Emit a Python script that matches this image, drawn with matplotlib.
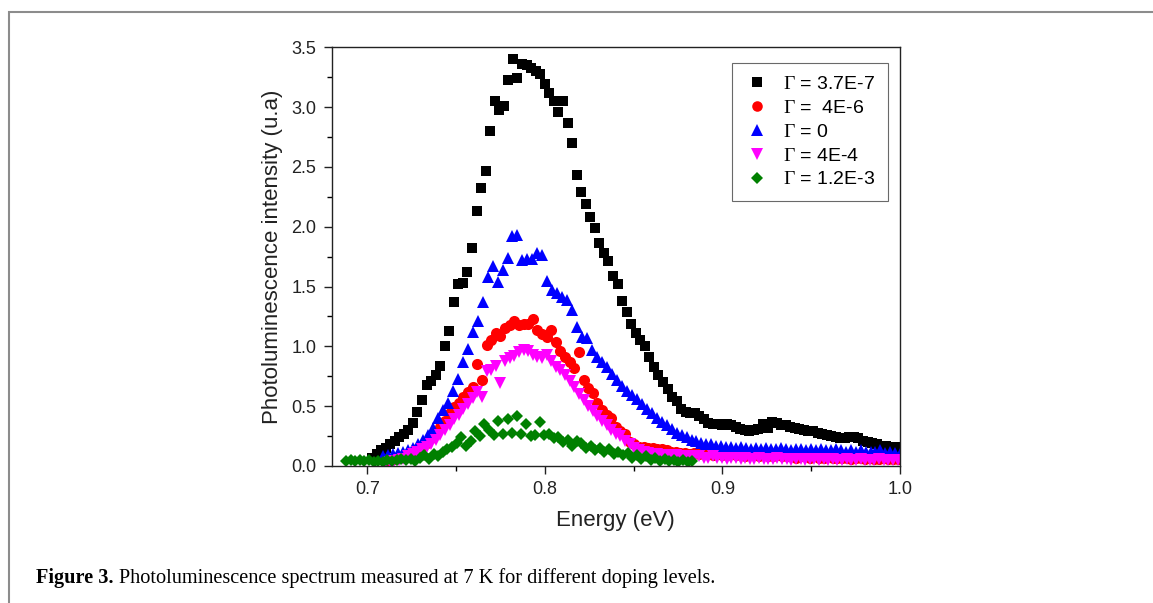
import numpy as np
import matplotlib
matplotlib.use("Agg")
import matplotlib.pyplot as plt
from matplotlib.patches import Rectangle
from matplotlib.ticker import MultipleLocator, FormatStrFormatter

plt.rcParams["font.family"] = ["Liberation Sans", "DejaVu Sans"]
plt.rcParams["mathtext.fontset"] = "custom"
plt.rcParams["mathtext.rm"] = "Liberation Serif"
plt.rcParams["mathtext.it"] = "Liberation Serif:italic"

# PL intensity; energies are on each series' sampling grid
black_start, black_step = 0.7027, 0.00256
black_y = [0.07, 0.10, 0.13, 0.15, 0.18, 0.21, 0.24, 0.27, 0.30, 0.36,
           0.45, 0.55, 0.68, 0.71, 0.76, 0.84, 1.00, 1.13, 1.37, 1.52,
           1.53, 1.62, 1.82, 2.13, 2.32, 2.47, 2.80, 3.05, 2.98, 3.01,
           3.23, 3.40, 3.24, 3.36, 3.35, 3.33, 3.30, 3.28, 3.19, 3.12,
           3.05, 2.96, 3.05, 2.87, 2.70, 2.43, 2.29, 2.19, 2.08, 1.99,
           1.86, 1.78, 1.71, 1.59, 1.52, 1.38, 1.29, 1.19, 1.11, 1.05,
           1.00, 0.91, 0.83, 0.76, 0.70, 0.64, 0.58, 0.54, 0.48, 0.45,
           0.44, 0.44, 0.42, 0.39, 0.36, 0.35, 0.35, 0.34, 0.35, 0.34,
           0.33, 0.31, 0.30, 0.29, 0.30, 0.31, 0.35, 0.32, 0.37, 0.36,
           0.34, 0.34, 0.33, 0.32, 0.31, 0.30, 0.29, 0.29, 0.28, 0.27,
           0.26, 0.25, 0.24, 0.23, 0.23, 0.24, 0.24, 0.23, 0.21, 0.20,
           0.19, 0.18, 0.17, 0.17, 0.16, 0.16, 0.15]

red_start, red_step = 0.710, 0.0026
red_y = [0.04, 0.05, 0.06, 0.07, 0.08, 0.10, 0.12, 0.14, 0.16, 0.19,
         0.23, 0.28, 0.33, 0.38, 0.44, 0.49, 0.53, 0.58, 0.62, 0.66,
         0.85, 0.72, 1.01, 1.05, 1.11, 1.09, 1.15, 1.18, 1.21, 1.18,
         1.19, 1.19, 1.23, 1.14, 1.10, 1.08, 1.14, 1.04, 0.96, 0.91,
         0.87, 0.82, 0.95, 0.72, 0.65, 0.61, 0.53, 0.47, 0.43, 0.40,
         0.33, 0.29, 0.27, 0.20, 0.18, 0.16, 0.16, 0.15, 0.15, 0.14,
         0.14, 0.13, 0.12, 0.12, 0.11, 0.11, 0.10, 0.11, 0.10, 0.10,
         0.10, 0.09, 0.10, 0.09, 0.09, 0.10, 0.09, 0.09, 0.08, 0.09,
         0.09, 0.08, 0.09, 0.08, 0.08, 0.09, 0.08, 0.08, 0.08, 0.07,
         0.08, 0.08, 0.07, 0.08, 0.07, 0.07, 0.08, 0.07, 0.07, 0.07,
         0.07, 0.06, 0.07, 0.07, 0.06, 0.07, 0.06, 0.06, 0.07, 0.06,
         0.06, 0.06]

blue_start, blue_step = 0.709, 0.0028
blue_y = [0.08, 0.09, 0.10, 0.11, 0.12, 0.13, 0.15, 0.18, 0.22, 0.26,
          0.32, 0.40, 0.47, 0.53, 0.63, 0.73, 0.87, 0.98, 1.12, 1.21,
          1.37, 1.58, 1.67, 1.54, 1.64, 1.74, 1.92, 1.93, 1.72, 1.73,
          1.73, 1.78, 1.76, 1.55, 1.47, 1.45, 1.41, 1.39, 1.30, 1.16,
          1.08, 1.07, 0.97, 0.91, 0.87, 0.83, 0.77, 0.72, 0.67, 0.63,
          0.59, 0.56, 0.52, 0.48, 0.44, 0.40, 0.37, 0.34, 0.31, 0.28,
          0.26, 0.24, 0.22, 0.21, 0.19, 0.185, 0.18, 0.17, 0.17, 0.16,
          0.16, 0.15, 0.16, 0.15, 0.14, 0.15, 0.14, 0.15, 0.14, 0.14,
          0.15, 0.14, 0.13, 0.14, 0.14, 0.13, 0.14, 0.13, 0.14, 0.13,
          0.13, 0.14, 0.13, 0.12, 0.13, 0.12, 0.13, 0.12, 0.12, 0.12,
          0.13, 0.11, 0.12, 0.11, 0.10]

magenta_start, magenta_step = 0.710, 0.0026
magenta_y = [0.02, 0.03, 0.04, 0.05, 0.06, 0.08, 0.10, 0.12, 0.14, 0.16,
             0.18, 0.22, 0.26, 0.30, 0.34, 0.39, 0.43, 0.48, 0.52, 0.57,
             0.62, 0.58, 0.79, 0.80, 0.84, 0.69, 0.88, 0.90, 0.92, 0.95,
             0.97, 0.96, 0.93, 0.91, 0.90, 0.93, 0.88, 0.83, 0.80, 0.76,
             0.71, 0.66, 0.60, 0.55, 0.50, 0.46, 0.42, 0.38, 0.34, 0.30,
             0.27, 0.25, 0.21, 0.18, 0.15, 0.13, 0.12, 0.11, 0.10, 0.10,
             0.09, 0.09, 0.08, 0.09, 0.08, 0.08, 0.08, 0.07, 0.08, 0.07,
             0.07, 0.08, 0.07, 0.07, 0.06, 0.07, 0.07, 0.06, 0.07, 0.06,
             0.06, 0.07, 0.06, 0.06, 0.06, 0.07, 0.06, 0.06, 0.05, 0.06,
             0.06, 0.05, 0.06, 0.06, 0.05, 0.06, 0.05, 0.06, 0.05, 0.05,
             0.06, 0.05, 0.05, 0.06, 0.05, 0.05, 0.05, 0.06, 0.05, 0.05,
             0.05, 0.05]

green_start, green_step = 0.688, 0.0026
green_y = [0.04, 0.05, 0.04, 0.05, 0.04, 0.05, 0.03, 0.04, 0.03, 0.05,
           0.04, 0.05, 0.06, 0.05, 0.06, 0.04, 0.07, 0.09, 0.06, 0.10,
           0.08, 0.12, 0.14, 0.16, 0.19, 0.24, 0.17, 0.21, 0.29, 0.25,
           0.35, 0.30, 0.26, 0.38, 0.27, 0.39, 0.28, 0.42, 0.27, 0.35,
           0.25, 0.26, 0.37, 0.26, 0.27, 0.23, 0.24, 0.20, 0.22, 0.17,
           0.21, 0.19, 0.15, 0.17, 0.13, 0.15, 0.12, 0.14, 0.10, 0.12,
           0.09, 0.11, 0.07, 0.09, 0.06, 0.08, 0.05, 0.07, 0.04, 0.06,
           0.04, 0.05, 0.03, 0.05, 0.03, 0.04]

labels = [r"$\mathrm{\Gamma}$ = 3.7E-7", r"$\mathrm{\Gamma}$ =  4E-6",
          r"$\mathrm{\Gamma}$ = 0", r"$\mathrm{\Gamma}$ = 4E-4",
          r"$\mathrm{\Gamma}$ = 1.2E-3"]

series = [(black_start, black_step, black_y, "s", "#000000", 7.5),
          (red_start, red_step, red_y, "o", "#ff0000", 8),
          (blue_start, blue_step, blue_y, "^", "#0000ff", 8.5),
          (magenta_start, magenta_step, magenta_y, "v", "#ff00ff", 8.5),
          (green_start, green_step, green_y, "D", "#008000", 6.5)]

W, H = 1153, 603
fig = plt.figure(figsize=(W / 100, H / 100), dpi=100)
ax = fig.add_axes([331.7 / W, 1 - 466 / H, (900 - 331.7) / W, (466 - 47.3) / H])

for (e0, de, y, m, c, ms), lab in zip(series, labels):
    x = e0 + de * np.arange(len(y))
    ax.plot(x, y, linestyle="none", marker=m, color=c, markersize=ms,
            markeredgewidth=0, label=lab)

ax.set_xlim(0.68, 1.0)
ax.set_ylim(0, 3.5)
ax.xaxis.set_major_locator(MultipleLocator(0.1))
ax.xaxis.set_minor_locator(MultipleLocator(0.05))
ax.yaxis.set_major_locator(MultipleLocator(0.5))
ax.yaxis.set_minor_locator(MultipleLocator(0.25))
ax.xaxis.set_major_formatter(FormatStrFormatter("%.1f"))
ax.yaxis.set_major_formatter(FormatStrFormatter("%.1f"))
ax.tick_params(which="both", direction="out", top=False, right=False, width=1.0)
ax.tick_params(which="major", length=6, labelsize=13, pad=5, colors="#222222")
ax.tick_params(which="minor", length=3.5)
for sp in ax.spines.values():
    sp.set_linewidth(1.0)
    sp.set_color("#222222")

ax.set_xlabel("Energy (eV)", fontsize=16, color="#222222")
ax.set_ylabel("Photoluminescence intensity (u.a)", fontsize=16, color="#222222")
ax.xaxis.set_label_coords(0.5, -0.105)
ax.yaxis.set_label_coords(-0.086, 0.5)

leg = ax.legend(loc="upper right", bbox_to_anchor=(0.979, 0.963), borderaxespad=0,
                fontsize=14, frameon=True, fancybox=False, edgecolor="#444444",
                handletextpad=0.7, handlelength=1.3, labelspacing=0.32,
                borderpad=0.65, markerscale=0.95)
leg.get_frame().set_linewidth(0.8)

# page border and caption
fig.add_artist(Rectangle((9 / W, -0.1), 1.2, 1.1 - 12 / H, transform=fig.transFigure,
                         fill=False, edgecolor="#8c8c8c", linewidth=1.5))
t1 = fig.text(36 / W, 1 - 583 / H, "Figure 3.", fontsize=14.6, fontweight="bold",
              family="Liberation Serif", va="baseline")
ax.annotate("Photoluminescence spectrum measured at 7 K for different doping levels.",
            xy=(1, 0), xycoords=t1, xytext=(4, 0), textcoords="offset points",
            fontsize=14.6, family="Liberation Serif", va="bottom", annotation_clip=False)

fig.savefig("out.png", dpi=100)
